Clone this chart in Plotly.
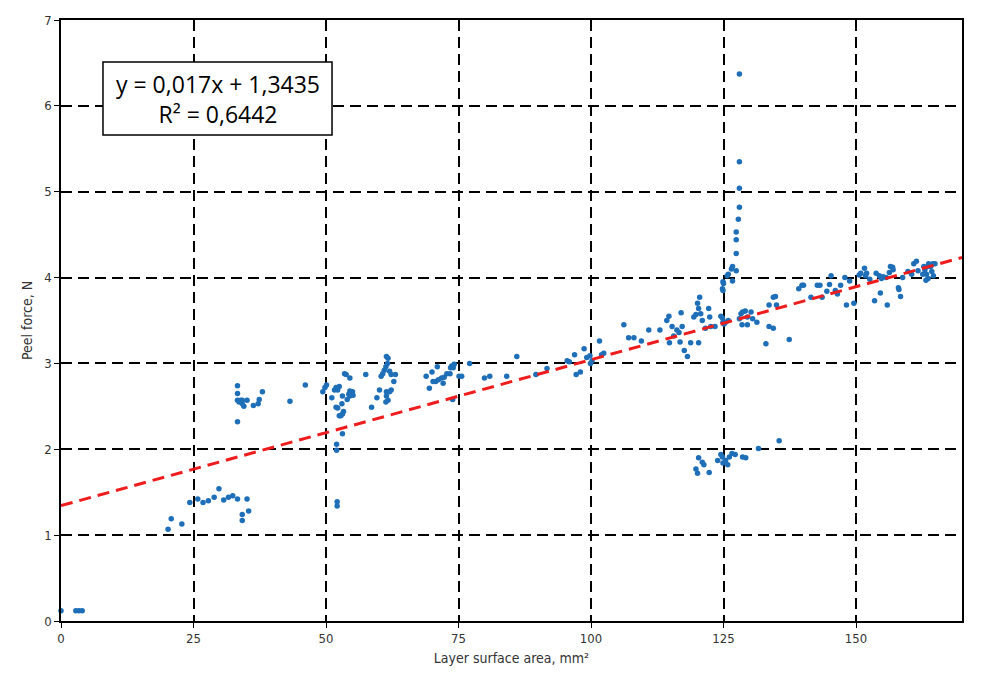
import plotly.graph_objects as go

# Peel force measurements (x: layer surface area, mm^2 ; y: peel force, N)
area = [
    0.0, 2.8, 3.4, 4.0,
    20.2, 20.8, 22.8, 24.3, 25.8, 26.8, 27.8, 28.9, 29.8, 30.7, 31.6, 32.4, 33.3, 35.1, 34.2, 34.2, 35.4,
    33.3, 33.3, 33.3, 33.6, 33.9, 34.2, 34.5, 35.1, 34.2, 36.3, 37.2, 37.4, 38.0, 33.3,
    43.2, 46.1, 49.4, 49.8, 50.1, 51.1, 51.6, 51.9, 52.2, 52.5,
    51.9, 52.2, 52.5, 52.8, 53.1, 53.3, 53.0, 53.1, 53.8, 54.5, 53.5,
    54.0, 54.3, 54.5, 55.0, 55.1, 54.5, 53.1, 52.0, 52.0, 52.1, 52.1,
    57.5, 58.6, 59.6, 60.1, 60.4, 60.7, 61.0, 61.3, 61.6, 61.4, 61.7,
    62.0, 62.3, 63.1, 62.8, 61.4, 62.0, 62.3, 61.4, 61.7, 61.3,
    68.9, 69.5, 70.0, 70.2, 70.7, 71.0, 71.2, 71.8, 72.1, 72.3, 72.8, 73.4, 73.5, 73.7, 74.0, 74.2,
    75.1, 75.6, 73.9, 77.1, 79.9, 80.9, 84.1, 86.0, 89.6, 91.7, 95.5, 95.9,
    96.9, 97.2, 98.0, 98.7, 99.2, 99.8, 100.2, 99.9, 101.6, 102.0, 102.4,
    106.2, 107.1, 108.1, 109.5, 110.9, 113.0,
    114.3, 114.7, 115.3, 114.8, 115.6, 116.2, 116.6, 116.8, 117.0, 117.2, 117.6, 118.2, 118.8,
    119.4, 119.8, 120.3, 120.1, 120.5, 120.3, 120.7, 121.0, 121.6, 122.2, 122.4, 122.6, 123.4,
    124.5, 124.8, 124.9, 125.1, 125.4, 124.8, 124.9, 125.9,
    128.0, 128.3, 128.6, 129.1, 128.5, 129.5, 129.5, 130.2, 130.5, 131.3, 133.0, 133.6, 133.6,
    134.4, 134.4, 134.8, 135.0, 137.4, 139.2, 139.8,
    120.1, 119.8, 121.0, 121.3, 120.3, 122.3, 123.9, 124.5, 124.8, 124.9, 125.4, 125.8, 126.1,
    126.6, 127.2, 128.6, 129.2, 131.6, 135.5,
    128.0, 128.0, 128.0, 128.0, 127.8, 127.4, 127.4, 127.4, 127.4, 126.7, 126.5, 126.7, 125.9,
    125.7, 125.0, 124.9,
    140.1, 141.5, 142.7, 143.2, 143.6, 144.5, 145.0, 145.3, 146.1, 146.5, 147.1, 147.9, 148.2,
    148.8, 149.6, 150.6, 150.9, 151.6, 151.8, 152.0, 152.6, 153.5, 153.8, 154.4, 154.6, 154.8,
    155.1, 155.7, 155.9, 156.3, 156.5, 156.9, 157.0, 158.0, 158.1, 158.4, 158.8, 159.8, 160.5,
    160.9, 161.4, 161.7, 162.6, 162.8, 163.0, 163.3, 163.5, 163.7, 164.1, 164.5, 164.9, 164.3,
    164.6, 163.2, 163.6,
]
force = [
    0.12, 0.12, 0.12, 0.12,
    1.07, 1.19, 1.13, 1.38, 1.42, 1.38, 1.40, 1.44, 1.54, 1.41, 1.44, 1.46, 1.42, 1.42, 1.24, 1.17, 1.28,
    2.74, 2.65, 2.57, 2.55, 2.57, 2.53, 2.50, 2.57, 2.57, 2.51, 2.53, 2.58, 2.67, 2.32,
    2.56, 2.75, 2.67, 2.72, 2.75, 2.60, 2.69, 2.72, 2.69, 2.73,
    2.49, 2.48, 2.39, 2.39, 2.41, 2.44, 2.53, 2.62, 2.87, 2.83, 2.88,
    2.58, 2.64, 2.68, 2.67, 2.63, 2.62, 2.18, 2.06, 1.99, 1.39, 1.34,
    2.87, 2.49, 2.60, 2.69, 2.85, 2.88, 2.92, 2.96, 3.00, 3.08, 3.06,
    2.91, 2.87, 2.87, 2.79, 2.67, 2.67, 2.69, 2.62, 2.57, 2.55,
    2.85, 2.71, 2.90, 2.79, 2.79, 2.96, 2.81, 2.83, 2.77, 2.84, 2.88, 2.88, 2.95, 2.97, 2.95, 2.99,
    2.85, 2.85, 2.58, 3.00, 2.83, 2.85, 2.85, 3.08, 2.87, 2.94, 3.03, 3.02,
    3.10, 2.87, 2.90, 3.17, 3.07, 3.09, 3.03, 3.00, 3.26, 3.10, 3.12,
    3.45, 3.30, 3.30, 3.26, 3.39, 3.39,
    3.50, 3.55, 3.43, 3.24, 3.32, 3.39, 3.36, 3.25, 3.59, 3.43, 3.15, 3.08, 3.24,
    3.54, 3.57, 3.24, 3.70, 3.77, 3.64, 3.58, 3.50, 3.41, 3.64, 3.54, 3.43, 3.43,
    3.55, 3.53, 3.48, 3.46, 3.48, 3.87, 3.95, 3.50,
    3.52, 3.58, 3.60, 3.61, 3.45, 3.45, 3.54, 3.60, 3.52, 3.48, 3.23, 3.68, 3.43,
    3.41, 3.77, 3.78, 3.68, 3.28, 3.87, 3.91,
    1.72, 1.77, 1.85, 1.82, 1.90, 1.73, 1.87, 1.94, 1.91, 1.84, 1.87, 1.82, 1.91,
    1.95, 1.94, 1.91, 1.90, 2.01, 2.10,
    6.37, 5.35, 5.04, 4.82, 4.68, 4.53, 4.44, 4.28, 4.08, 4.13, 4.10, 3.96, 4.04,
    4.02, 3.93, 3.85,
    3.91, 3.77, 3.91, 3.91, 3.77, 3.84, 3.92, 4.02, 3.85, 3.81, 3.91, 4.00, 3.68,
    3.96, 3.70, 4.03, 4.05, 4.11, 4.02, 4.05, 3.98, 3.73, 4.05, 4.02, 3.82, 3.99,
    4.01, 4.00, 3.68, 4.06, 4.13, 4.12, 4.09, 3.88, 3.86, 3.78, 4.00, 4.07, 4.04,
    4.16, 4.19, 4.08, 4.04, 4.13, 4.09, 4.04, 4.13, 4.16, 4.13, 4.16, 4.16, 4.07,
    4.02, 3.97, 3.99,
]

# Linear trend line (as shown on the chart)
slope = 0.017
intercept = 1.3435
r_squared = "0,6442"
trend_x = [0, 170]
trend_y = [intercept + slope * v for v in trend_x]

x_ticks = [0, 25, 50, 75, 100, 125, 150]
y_ticks = [0, 1, 2, 3, 4, 5, 6, 7]

FONT = "DejaVu Sans Condensed, Liberation Sans Narrow, Open Sans, sans-serif"

fig = go.Figure()
fig.add_trace(go.Scatter(
    x=area, y=force, mode="markers",
    marker=dict(color="#1f6fb8", size=5.5, line=dict(width=0)),
    showlegend=False, cliponaxis=False,
))
fig.add_trace(go.Scatter(
    x=trend_x, y=trend_y, mode="lines",
    line=dict(color="#ee1c1c", width=3, dash="12px,7px"),
    showlegend=False,
))

axis_common = dict(
    showline=True, linecolor="black", linewidth=1.5, mirror=True,
    ticks="outside", ticklen=5, tickcolor="black", tickwidth=1,
    showgrid=True, gridcolor="black", gridwidth=1.5, griddash="11px,6px",
    zeroline=False,
    tickfont=dict(family=FONT, size=13, color="#333333"),
)

fig.update_xaxes(range=[0, 170], tickvals=x_ticks, **axis_common,
                 title=dict(text="Layer surface area, mm²",
                            font=dict(family=FONT, size=14, color="#333333"),
                            standoff=8))
fig.update_yaxes(range=[0, 7], tickvals=y_ticks, **axis_common,
                 title=dict(text="Peel force, N",
                            font=dict(family=FONT, size=14, color="#333333"),
                            standoff=8))

# Equation box
fig.add_shape(type="rect", xref="paper", yref="paper",
              x0=0.0466, x1=0.3008, y0=0.8087, y1=0.9301,
              fillcolor="white", line=dict(color="black", width=1.5),
              layer="above")
fig.add_annotation(
    xref="paper", yref="paper", x=0.1737, y=0.869,
    xanchor="center", yanchor="middle", showarrow=False,
    text=f"y = 0,017x + 1,3435<br>R² = {r_squared}",
    font=dict(family="Open Sans, sans-serif", size=23, color="black"),
    align="center",
)

fig.update_layout(
    width=983, height=688,
    margin=dict(l=61, r=21, t=20, b=67),
    paper_bgcolor="white", plot_bgcolor="white",
)

fig.write_html("out.html")
